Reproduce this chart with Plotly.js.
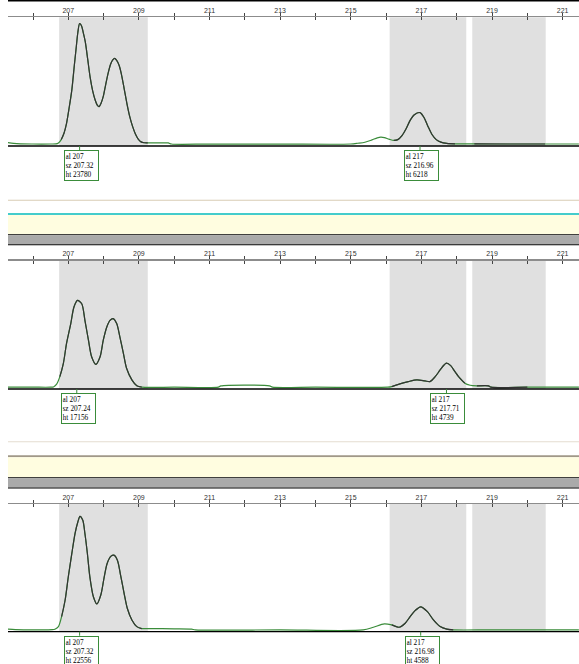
<!DOCTYPE html>
<html>
<head>
<meta charset="utf-8">
<script src="https://cdn.plot.ly/plotly-3.0.1.min.js"></script>
<style>html,body{margin:0;padding:0;background:#fff;}#chart{width:579px;height:664px;}</style>
</head>
<body>
<div id="chart"></div>
<script>
// ---------- data ----------
const tickVals = [206,207,208,209,210,211,212,213,214,215,216,217,218,219,220,221];
const tickLabels = ['', '207', '', '209', '', '211', '', '213', '', '215', '', '217', '', '219', '', '221'];
const binStarts = [206.74, 216.10, 218.44];
const binEnds   = [209.25, 218.27, 220.52];

// panel 1
const p1x = [205.29,205.45,205.65,206.0,206.5,206.65,206.72,206.80,206.88,206.95,207.02,207.10,207.17,207.22,207.27,207.32,207.37,207.42,207.48,207.55,207.62,207.69,207.76,207.82,207.87,207.93,207.99,208.06,208.13,208.20,208.26,208.31,208.37,208.44,208.50,208.58,208.66,208.74,208.82,208.90,208.98,209.06,209.15,209.25,209.55,209.83,209.92,211.0,213.0,215.0,215.20,215.40,215.60,215.75,215.85,215.95,216.08,216.22,216.33,216.45,216.57,216.68,216.80,216.96,217.07,217.18,217.30,217.42,217.55,217.72,217.95,218.5,219.5,220.5,221.46];
const p1y = [300,150,60,30,30,60,250,900,2200,4100,7000,10700,15500,18800,22000,23780,23400,22100,20200,16700,13100,10500,8700,7700,7410,8100,9400,11800,14050,15800,16600,16890,16500,15500,13900,11000,8000,5420,3500,2000,1000,450,280,260,250,240,30,20,20,30,180,380,850,1250,1390,1300,1000,740,900,1700,3100,4700,5800,6218,5300,3600,1900,900,400,150,60,40,30,30,30];
const p1Allele = [207, 217];
const p1Size   = [207.32, 216.96];
const p1Height = [23780, 6218];

// panel 2
const p2x = [205.29,206.0,206.50,206.58,206.67,206.76,206.86,206.95,207.07,207.16,207.26,207.38,207.47,207.57,207.66,207.78,207.90,207.99,208.09,208.18,208.27,208.37,208.46,208.56,208.65,208.80,208.94,209.08,210.0,211.25,211.32,212.70,212.78,214.0,216.05,216.16,216.39,216.63,216.87,217.10,217.24,217.39,217.53,217.64,217.71,217.83,217.95,218.09,218.23,218.38,218.57,218.90,218.97,220.0,221.46];
const p2y = [0,0,0,50,590,2080,4720,8650,12580,15840,17156,16500,13220,9290,6010,4520,6010,9290,11910,13220,13560,12580,9940,6680,3730,1430,260,0,0,0,250,250,0,0,0,120,650,1100,1430,1240,1100,2080,3400,4380,4739,4250,3070,1770,790,390,260,260,0,0,0];
const p2Allele = [207, 217];
const p2Size   = [207.24, 217.71];
const p2Height = [17156, 4739];

// panel 3
const p3x = [205.29,205.5,206.0,206.55,206.62,206.72,206.81,206.91,207.00,207.10,207.19,207.27,207.33,207.41,207.47,207.54,207.61,207.71,207.81,207.92,208.01,208.10,208.21,208.29,208.39,208.48,208.58,208.67,208.80,208.94,209.08,209.27,210.0,210.49,210.6,213.0,215.35,215.64,215.95,216.16,216.37,216.54,216.68,216.82,216.98,217.17,217.34,217.53,217.72,217.90,219.0,221.46];
const p3y = [140,60,0,40,140,650,2630,5940,10550,15180,19140,21430,22556,21770,19140,15180,10550,6590,5150,6930,10230,13200,14640,14840,13850,10880,7260,4290,1980,650,260,260,200,140,0,0,0,530,1190,990,530,1320,2630,3820,4588,3620,1980,650,140,0,0,0];
const p3Allele = [207, 217];
const p3Size   = [207.32, 216.98];
const p3Height = [22556, 4588];

// ---------- layout helpers ----------
const W = 579, H = 664;
const fx = p => p / W;
const fy = p => 1 - p / H;
const xRange = [205.292, 221.463];
const yRange = [-360, 25000];
const GREEN = '#3a8c3a', DARK = '#333333';

const panels = [
  {x: p1x, y: p1y, al: p1Allele, sz: p1Size, ht: p1Height, top: 17.3, bottom: 146},
  {x: p2x, y: p2y, al: p2Allele, sz: p2Size, ht: p2Height, top: 260.7, bottom: 389},
  {x: p3x, y: p3y, al: p3Allele, sz: p3Size, ht: p3Height, top: 504, bottom: 631.7}
];

const traces = [];
const layout = {
  width: W, height: H,
  margin: {l: 0, r: 0, t: 0, b: 0},
  paper_bgcolor: '#ffffff', plot_bgcolor: 'rgba(0,0,0,0)',
  showlegend: false,
  shapes: [], annotations: []
};

panels.forEach((p, i) => {
  const s = i === 0 ? '' : String(i + 1);
  const xa = 'x' + s, ya = 'y' + s;
  const ov = 'x' + (i + 4);
  layout['xaxis' + s] = {
    domain: [fx(8), 1], range: xRange, anchor: ya, side: 'top',
    showline: true, linecolor: '#8c8c8c', linewidth: 1.5,
    ticks: 'outside', ticklen: 3, tickwidth: 1, tickcolor: '#444',
    tickmode: 'array', tickvals: tickVals, ticktext: tickLabels,
    ticklabelstandoff: -3,
    tickfont: {family: 'Liberation Sans, Arial, sans-serif', size: 7, color: '#333'},
    showgrid: false, zeroline: false, fixedrange: true
  };
  layout['xaxis' + (i + 4)] = {
    overlaying: xa, anchor: ya, side: 'top', range: xRange,
    ticks: 'inside', ticklen: 3, tickwidth: 1, tickcolor: '#444',
    tickmode: 'array', tickvals: tickVals, showticklabels: false,
    showline: false, showgrid: false, zeroline: false, fixedrange: true
  };
  layout['yaxis' + s] = {
    domain: [fy(p.bottom), fy(p.top)], range: yRange, visible: false,
    fixedrange: true, showgrid: false, zeroline: false
  };

  // bins
  binStarts.forEach((b0, k) => {
    layout.shapes.push({type: 'rect', xref: xa, yref: ya + ' domain', x0: b0, x1: binEnds[k], y0: 0, y1: 1,
      fillcolor: '#e0e0e0', line: {width: 0}, layer: 'below'});
  });
  // bottom baseline line
  layout.shapes.push({type: 'line', xref: 'paper', yref: ya + ' domain', x0: fx(8), x1: 1, y0: 0, y1: 0,
    line: {color: '#000', width: 1.3}});

  // green full trace
  traces.push({type: 'scatter', mode: 'lines', x: p.x, y: p.y, xaxis: xa, yaxis: ya,
    line: {color: GREEN, width: 1.2, shape: 'spline', smoothing: 0.8}, hoverinfo: 'skip'});
  // dark trace inside bins
  const dx = [], dy = [];
  binStarts.forEach((b0, k) => {
    p.x.forEach((v, j) => { if (v >= b0 && v <= binEnds[k]) { dx.push(v); dy.push(p.y[j]); } });
    dx.push(null); dy.push(null);
  });
  traces.push({type: 'scatter', mode: 'lines', x: dx, y: dy, xaxis: xa, yaxis: ya, connectgaps: false,
    line: {color: DARK, width: 1.2, shape: 'spline', smoothing: 0.8}, hoverinfo: 'skip'});
  // empty trace to register overlay tick axis
  traces.push({type: 'scatter', mode: 'lines', x: [xRange[0]], y: [null], xaxis: ov, yaxis: ya, hoverinfo: 'skip'});

  // peak labels
  p.sz.forEach((szv, k) => {
    layout.shapes.push({type: 'line', xref: xa, yref: 'paper', x0: szv, x1: szv,
      y0: fy(p.bottom), y1: fy(p.bottom + 4), line: {color: GREEN, width: 1}});
    layout.annotations.push({
      xref: xa, yref: 'paper', x: szv, y: fy(p.bottom + 4), xanchor: 'left', yanchor: 'top', xshift: -16,
      text: 'al ' + p.al[k] + '<br>sz ' + szv.toFixed(2) + '<br>ht ' + p.ht[k],
      showarrow: false, align: 'left',
      font: {family: 'Liberation Serif, Times New Roman, serif', size: 7.3, color: '#000'},
      bordercolor: GREEN, borderwidth: 1, borderpad: 0.5, bgcolor: '#fff', width: 32
    });
  });
});

// decorative bands (pixel positions)
function band(y0, y1, color) {
  layout.shapes.push({type: 'rect', xref: 'paper', yref: 'paper', x0: fx(8), x1: 1,
    y0: fy(y1), y1: fy(y0), fillcolor: color, line: {width: 0}, layer: 'above'});
}
band(0, 1.5, '#000000');
band(199.8, 200.8, '#d8ccb4');
band(213, 215, '#44cccc');
band(215, 234.2, '#fffde0');
band(234.2, 235.2, '#000000');
band(235.2, 244.3, '#aaaaaa');
band(244.3, 245.3, '#000000');
band(441.2, 442.2, '#e4ddd0');
band(455.3, 457.3, '#a09888');
band(457.3, 477.3, '#fffde0');
band(477.3, 478.3, '#000000');
band(478.3, 487.5, '#aaaaaa');
band(487.5, 488.5, '#000000');

Plotly.newPlot('chart', traces, layout, {staticPlot: true, displayModeBar: false});
</script>
</body>
</html>
